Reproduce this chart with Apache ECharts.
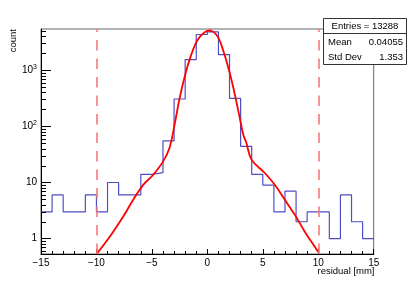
<!DOCTYPE html>
<html>
<head>
<meta charset="utf-8">
<script src="https://cdn.jsdelivr.net/npm/echarts@6/dist/echarts.min.js"></script>
<style>
html,body{margin:0;padding:0;background:#fff;}
#chart{width:415px;height:284px;}
</style>
</head>
<body>
<div id="chart"></div>
<script>
// Histogram bins (low edges, width 1) and counts
var binLow = [-15,-14,-13,-12,-11,-10,-9,-8,-7,-6,-5,-4,-3,-2,-1,0,1,2,3,4,5,6,7,8,9,10,11,12,13,14];
var binHigh = 15;
var counts = [3,6,3,3,6,3,10,6,6,14,15,55,306,1540,4300,4810,1890,313,44,14,9,3,7,2,3,3,1,6,2,1];
// Fit curve
var fitX = [-10,-8.8,-7.6,-6.7,-5.8,-4.9,-4.0,-3.4,-2.9,-2.5,-2.0,-1.55,-1.1,-0.65,-0.2,0.15,0.55,1.0,1.45,1.9,2.35,2.8,3.25,3.5,4.0,5.2,6.1,7.0,7.9,8.8,9.9,10];
var fitY = [0.53,1.08,2.45,4.87,9.0,13.6,23.5,42,122,318,830,1650,2850,3990,4790,5070,4790,3760,2170,1095,480,184,70,52,25.3,14.6,9.0,4.87,2.63,1.32,0.62,0.58];
var fitRange = [-10, 10];
// Axes
var xMin = -15, xMax = 15, xStep = 5;
var yMin = 0.534, yMax = 5390;
var yMajorTicks = [1, 10, 100, 1000];
var yMinorTicks = [0.6,0.7,0.8,0.9,2,3,4,5,6,7,8,9,20,30,40,50,60,70,80,90,200,300,400,500,600,700,800,900,2000,3000,4000,5000];
// Stats
var statsEntries = '13288', statsMean = '0.04055', statsStd = '1.353';

var histData = binLow.map(function(x, i){ return [x, counts[i]]; });
histData.push([binHigh, counts[counts.length-1]]);
var fitData = fitX.map(function(x, i){ return [x, fitY[i]]; });
var FONT = 'Liberation Sans, Arial, sans-serif';

var chart = echarts.init(document.getElementById('chart'), null, {renderer:'canvas'});
chart.setOption({
  animation: false,
  backgroundColor: '#fff',
  grid: {left: 41, right: 41.3, top: 29, bottom: 30, show: true, borderColor: '#666', borderWidth: 1, backgroundColor: 'transparent'},
  xAxis: {
    type: 'value', min: xMin, max: xMax, interval: xStep,
    axisLine: {show: true, onZero: false, lineStyle: {color: '#000', width: 1}},
    axisTick: {show: true, inside: true, length: 5, lineStyle: {color: '#000'}},
    minorTick: {show: true, splitNumber: 5, length: 3, lineStyle: {color: '#000'}},
    splitLine: {show: false},
    axisLabel: {margin: 4, fontSize: 10, color: '#000', fontFamily: FONT,
      formatter: function(v){ return String(v).replace('-', '\u2212'); }}
  },
  yAxis: {
    type: 'log', logBase: 10, min: yMin, max: yMax,
    axisLine: {show: true, onZero: false, lineStyle: {color: '#000', width: 1}},
    axisTick: {show: true, inside: true, length: 10, lineStyle: {color: '#000'}, customValues: yMajorTicks},
    splitLine: {show: false},
    axisLabel: {margin: 4, fontSize: 10, color: '#000', fontFamily: FONT, customValues: yMajorTicks,
      formatter: function(v){
        var e = Math.round(Math.log10(v));
        if (Math.abs(Math.log10(v) - e) > 1e-6) return '';
        if (e === 0) return '1';
        if (e === 1) return '10';
        return '10{sup|' + e + '}';
      },
      rich: {sup: {fontSize: 7, fontFamily: FONT, color: '#000', verticalAlign: 'bottom', padding: [0,0,6,0]}}
    }
  },
  series: [
    {
      type: 'line', data: histData, step: 'end', showSymbol: false, symbol: 'none',
      lineStyle: {color: '#4e4ec6', width: 1.2}, z: 2, clip: true,
      markLine: {
        silent: true, symbol: 'none', label: {show: false},
        lineStyle: {color: '#f87878', width: 1.6, type: [10.5, 8]},
        data: fitRange.map(function(v){ return {xAxis: v}; })
      }
    },
    {
      type: 'line', data: fitData, smooth: 0.4, showSymbol: false, symbol: 'none',
      lineStyle: {color: '#ff0000', width: 1.8}, z: 3, clip: true
    },
    {
      type: 'custom', z: 4, silent: true, clip: false,
      data: yMinorTicks.map(function(v){ return [xMin, v]; }),
      renderItem: function(params, api){
        var p = api.coord([api.value(0), api.value(1)]);
        var y = Math.round(p[1]) + 0.5;
        return {type: 'line', shape: {x1: p[0], y1: y, x2: p[0] + 5, y2: y}, style: {stroke: '#000', lineWidth: 1}};
      }
    }
  ],
  graphic: [
    {type: 'text', x: 13, y: 29, rotation: Math.PI/2, z: 10,
      style: {text: 'count', fontSize: 9.5, fontFamily: FONT, fill: '#000', textAlign: 'right', textVerticalAlign: 'middle'}},
    {type: 'text', x: 374.5, y: 271.5, z: 10,
      style: {text: 'residual [mm]', fontSize: 9.5, fontFamily: FONT, fill: '#000', textAlign: 'right', textVerticalAlign: 'middle'}},
    {type: 'rect', z: 20, shape: {x: 323.5, y: 18.5, width: 83, height: 46},
      style: {fill: '#fff', stroke: '#333', lineWidth: 1}},
    {type: 'line', z: 21, shape: {x1: 323.5, y1: 33.5, x2: 406.5, y2: 33.5}, style: {stroke: '#333', lineWidth: 1}},
    {type: 'text', z: 22, x: 365, y: 26.5,
      style: {text: 'Entries = ' + statsEntries, fontSize: 9.5, fontFamily: FONT, fill: '#000', textAlign: 'center', textVerticalAlign: 'middle'}},
    {type: 'text', z: 22, x: 328, y: 42.5,
      style: {text: 'Mean', fontSize: 9.5, fontFamily: FONT, fill: '#000', textAlign: 'left', textVerticalAlign: 'middle'}},
    {type: 'text', z: 22, x: 403, y: 42.5,
      style: {text: statsMean, fontSize: 9.5, fontFamily: FONT, fill: '#000', textAlign: 'right', textVerticalAlign: 'middle'}},
    {type: 'text', z: 22, x: 328, y: 57.5,
      style: {text: 'Std Dev', fontSize: 9.5, fontFamily: FONT, fill: '#000', textAlign: 'left', textVerticalAlign: 'middle'}},
    {type: 'text', z: 22, x: 403, y: 57.5,
      style: {text: statsStd, fontSize: 9.5, fontFamily: FONT, fill: '#000', textAlign: 'right', textVerticalAlign: 'middle'}}
  ]
});
</script>
</body>
</html>
